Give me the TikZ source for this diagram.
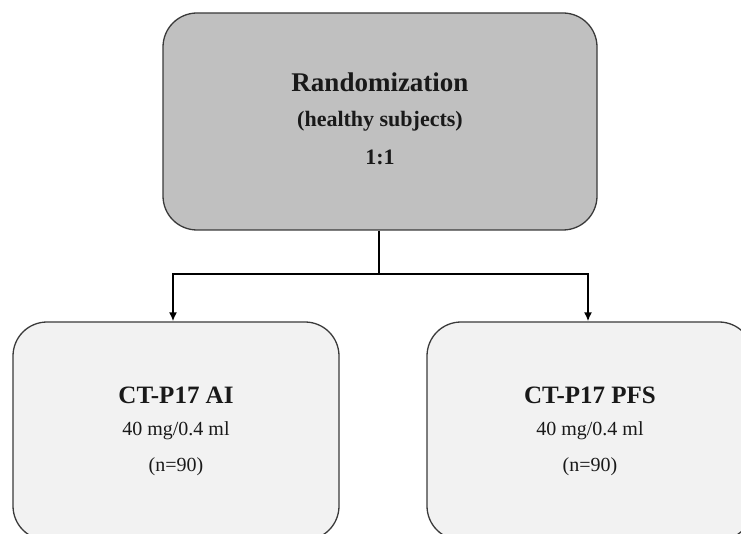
\documentclass[tikz,border=0pt]{standalone}
\usepackage{fontspec}
\setmainfont{Liberation Serif}
\usetikzlibrary{arrows.meta}
\definecolor{topfill}{HTML}{C0C0C0}
\definecolor{botfill}{HTML}{F2F2F2}
\definecolor{edge}{HTML}{3A3A3A}
\tikzset{
  boxstyle/.style={draw=edge, line width=1.3pt, rounded corners=34pt, align=center, text=black!90, inner sep=0pt},
  topbox/.style={boxstyle, fill=topfill, minimum width=434pt, minimum height=217pt, font=\fontsize{22}{36}\selectfont\bfseries},
  botbox/.style={boxstyle, fill=botfill, minimum width=326pt, minimum height=218pt, font=\fontsize{20}{35}\selectfont},
  conn/.style={draw=black, line width=2.6pt},
  arr/.style={conn, -{Latex[length=9pt,width=8pt]}},
}
\begin{document}
\begin{tikzpicture}[x=1pt,y=-1pt]
\useasboundingbox (0,0) rectangle (741,534);
\node[topbox] (rand) at (380,121.5) {%
  {\fontsize{27}{36}\selectfont Randomization}\\[-1pt]
  (healthy subjects)\\[2pt]
  1:1\\[-30pt]\mbox{}};
\node[botbox] (ai) at (176,431) {%
  {\fontsize{25}{33}\selectfont\bfseries CT-P17 AI}\\[-3pt]
  40 mg/0.4 ml\\[1pt]
  (n=90)};
\node[botbox] (pfs) at (590,431) {%
  {\fontsize{25}{33}\selectfont\bfseries CT-P17 PFS}\\[-3pt]
  40 mg/0.4 ml\\[1pt]
  (n=90)};
\coordinate (j) at (379,274);
\draw[conn] (rand.south -| j) -- (j);
\draw[arr] (j) -| ([xshift=-3pt]ai.north);
\draw[arr] (j) -| ([xshift=-2pt]pfs.north);
\end{tikzpicture}
\end{document}
